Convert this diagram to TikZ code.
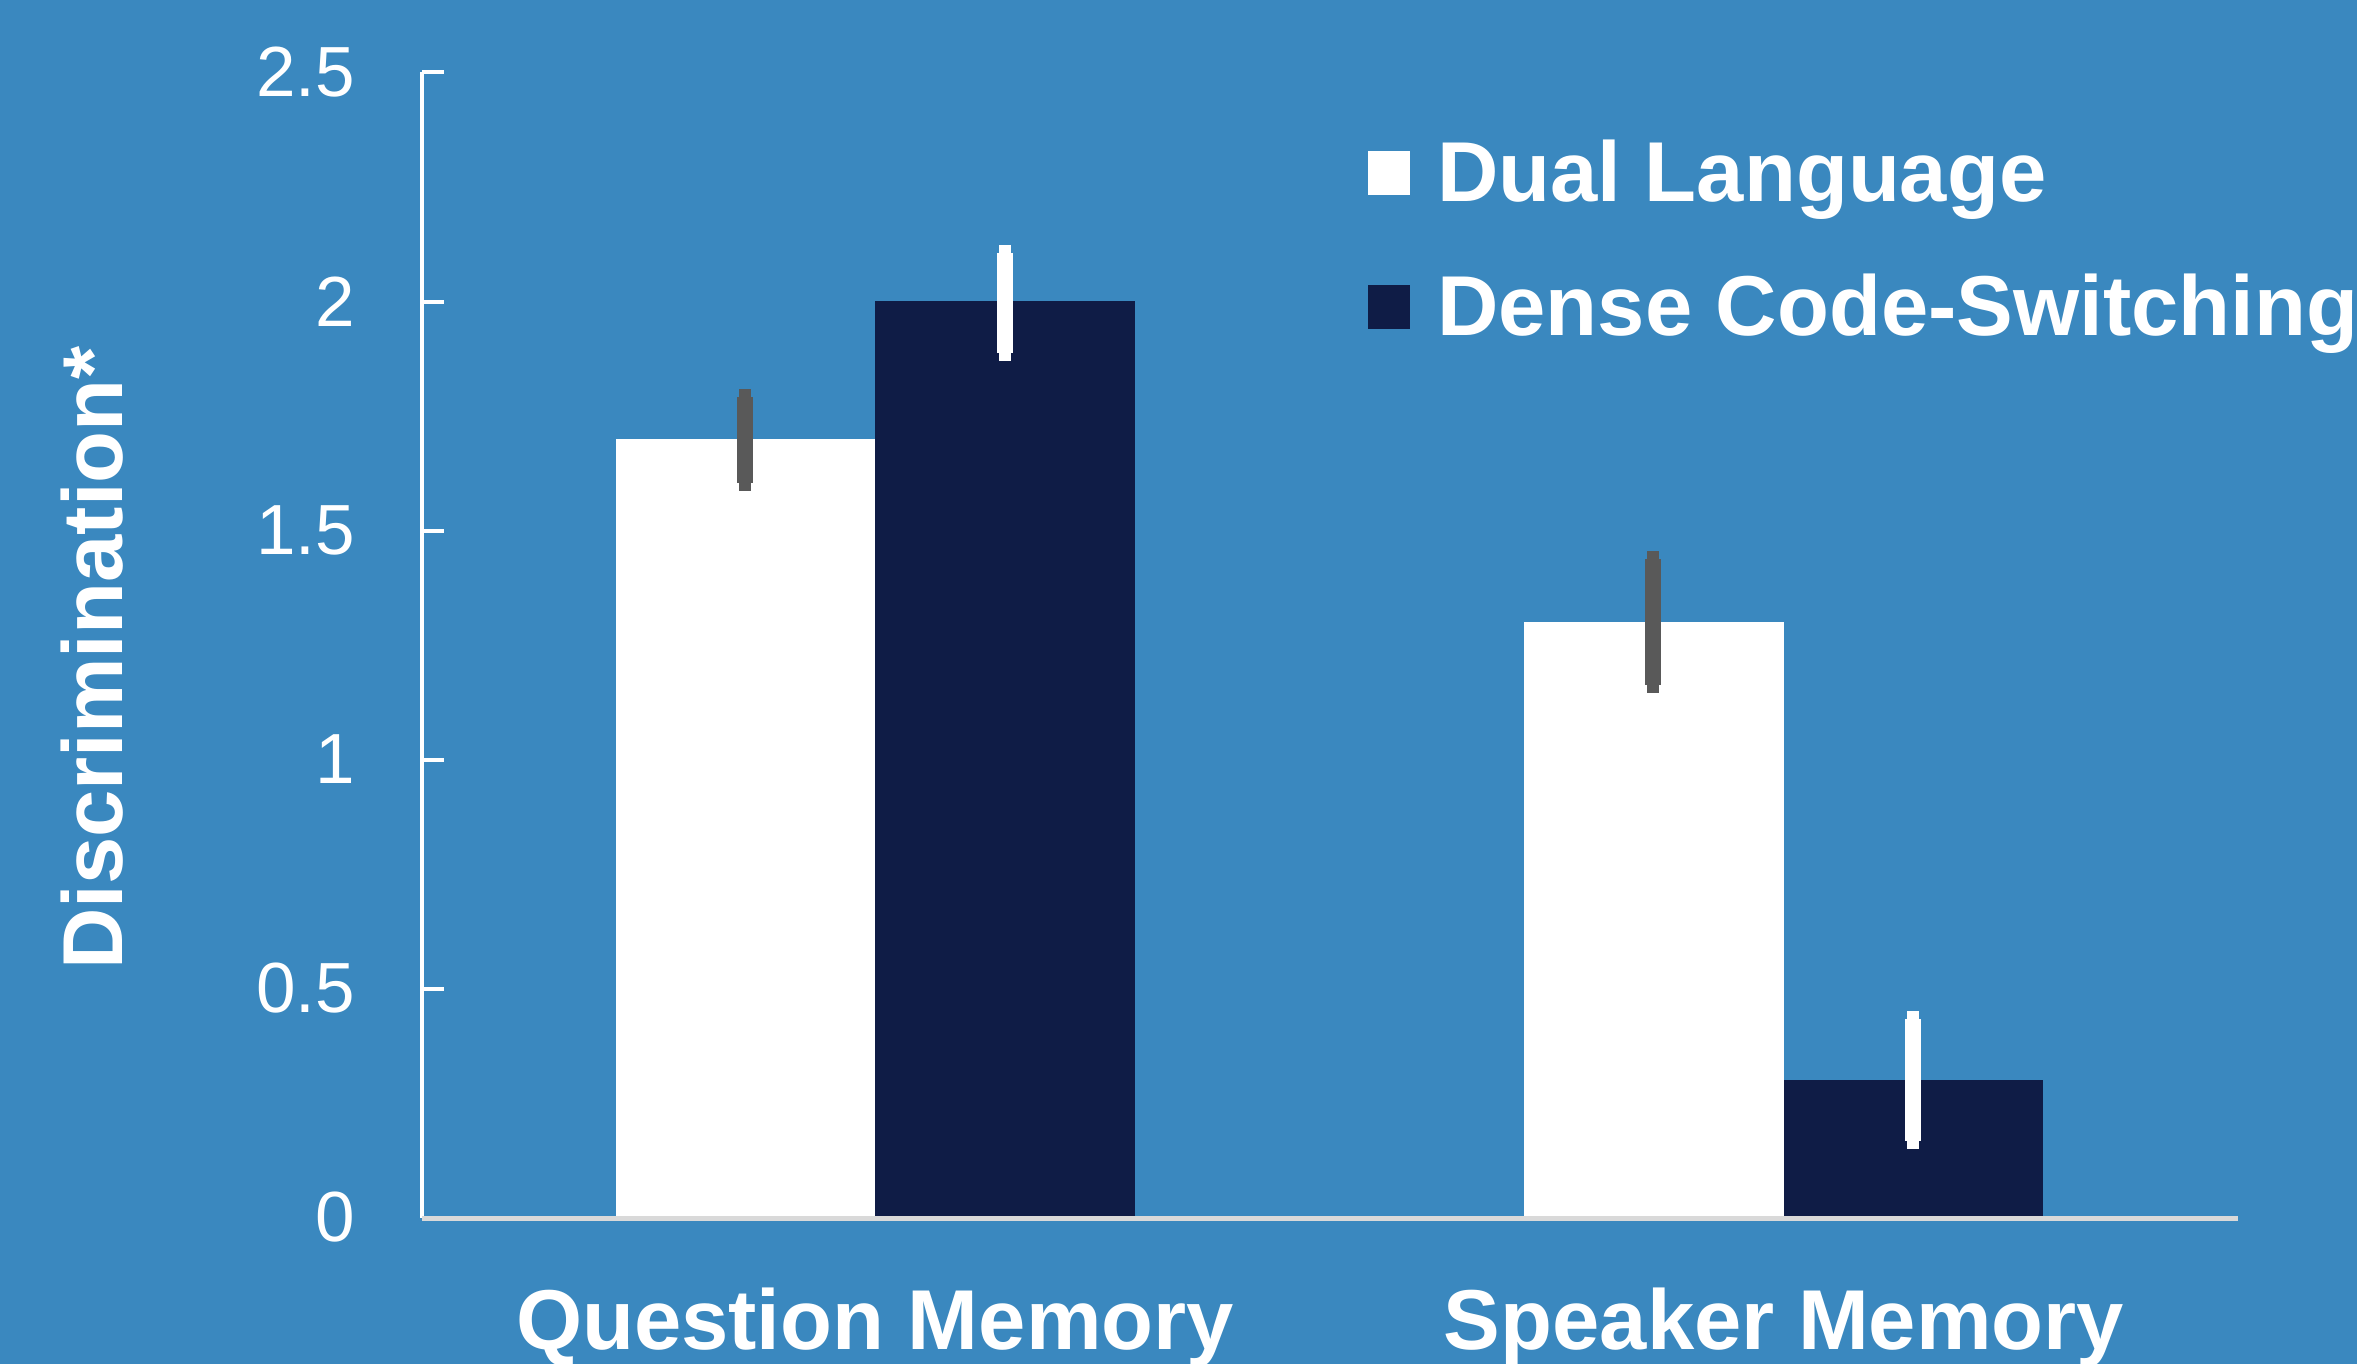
\documentclass[tikz,border=0pt]{standalone}
\usepackage{fontspec}
\setmainfont{Liberation Sans}
\definecolor{bgblue}{RGB}{58,136,191}
\definecolor{navy}{RGB}{15,28,70}
\definecolor{errgray}{RGB}{89,89,89}
\definecolor{basegray}{RGB}{217,217,217}
\tikzset{
  ticklabel/.style={text=white, inner sep=0pt, anchor=east,
    font=\fontsize{71}{71}\selectfont},
  boldlabel/.style={text=white, inner sep=0pt,
    font=\fontsize{85}{85}\selectfont\bfseries},
  errbody/.style={line width=16pt},
  errcap/.style={line width=12pt},
}
\begin{document}
\begin{tikzpicture}[x=1pt, y=-1pt]
  % canvas
  \useasboundingbox (0,0) rectangle (2357,1364);
  \fill[bgblue] (0,0) rectangle (2357,1364);

  % bars (value v drawn at y = 1217.5 - 458 v)
  \fill[white] (616,439) rectangle (875,1217);
  \fill[navy]  (875,301) rectangle (1135,1217);
  \fill[white] (1524,622) rectangle (1784,1217);
  \fill[navy]  (1784,1080) rectangle (2043,1217);

  % error bars
  \draw[errgray, errcap]  (745,389) -- (745,491);
  \draw[errgray, errbody] (745,397) -- (745,483);
  \draw[white, errcap]  (1005,245) -- (1005,361);
  \draw[white, errbody] (1005,253) -- (1005,353);
  \draw[errgray, errcap]  (1653,551) -- (1653,693);
  \draw[errgray, errbody] (1653,559) -- (1653,685);
  \draw[white, errcap]  (1913,1011) -- (1913,1149);
  \draw[white, errbody] (1913,1019) -- (1913,1141);

  % axes
  \coordinate (yaxtop) at (422,72.5);
  \coordinate (origin) at (422,1218);
  \coordinate (xaxend) at (2238,1218);
  \draw[white, line width=4pt] (yaxtop) -- (origin);
  \draw[basegray, line width=5pt] (origin) -- (xaxend);
  \foreach \v in {0.5,1,1.5,2,2.5}
    \draw[white, line width=4pt] (422,{1217.5-458*\v}) -- (444,{1217.5-458*\v});

  % tick labels
  \node[ticklabel] (t0)  at (355,1217.5) {0};
  \node[ticklabel] (t05) at (355,988.5) {0.5};
  \node[ticklabel] (t1)  at (355,759.5) {1};
  \node[ticklabel] (t15) at (355,530.5) {1.5};
  \node[ticklabel] (t2)  at (355,301.5) {2};
  \node[ticklabel] (t25) at (355,72.5) {2.5};

  % axis title
  \node[boldlabel, rotate=90, anchor=base west] (ytitle) at (122,970) {Discrimination*};

  % category labels
  \node[boldlabel, anchor=base] (catq) at (875,1349) {Question Memory};
  \node[boldlabel, anchor=base] (cats) at (1784,1349) {Speaker Memory};

  % legend
  \fill[white] (1368,151) rectangle (1410,195);
  \fill[navy]  (1368,285) rectangle (1410,329);
  \node[boldlabel, anchor=base west] (legdual)  at (1437,202) {Dual Language};
  \node[boldlabel, anchor=base west] (legdense) at (1437,335) {Dense Code-Switching};
\end{tikzpicture}
\end{document}
